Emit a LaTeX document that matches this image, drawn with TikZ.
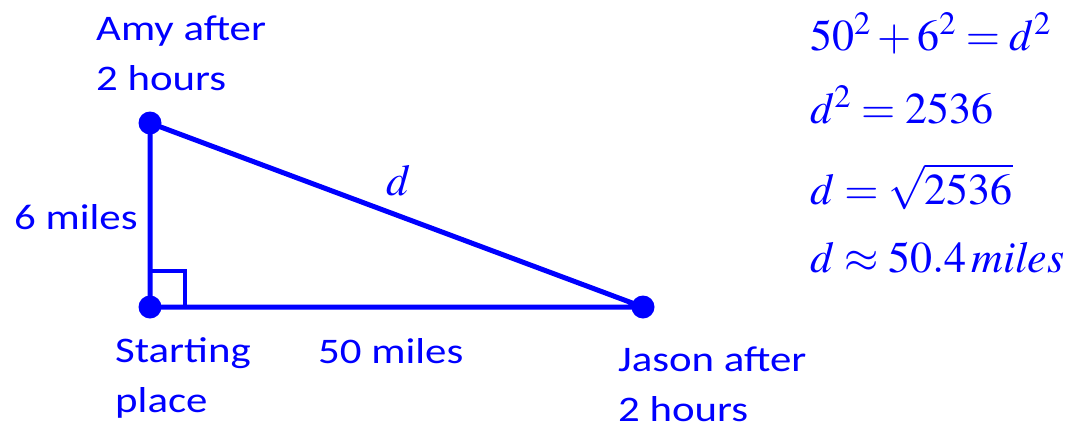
\documentclass[tikz,border=0pt]{standalone}
\usepackage{mathptmx}
\usepackage{fontspec}
\setmainfont{Carlito}
\newfontfamily\lblfont[FakeStretch=1.19]{Carlito}
\tikzset{
  ink/.style={draw=blue, line width=5pt},
  lbl/.style={text=blue, inner sep=0pt, anchor=base west, align=left,
    font=\lblfont\fontsize{36}{50}\selectfont},
  eqn/.style={text=blue, inner sep=0pt, anchor=base west,
    font=\fontsize{44}{52}\selectfont}
}
\begin{document}
\begin{tikzpicture}[x=1pt, y=-1pt]
    \useasboundingbox (0,0) rectangle (1072,429);

    % Corners of the triangle
    \coordinate (amy) at (150,123);
    \coordinate (start) at (150,307);
    \coordinate (jason) at (643,307);

    % Sides
    \draw[ink, line join=round] (amy) -- (start) -- (jason) -- cycle;

    % Right-angle mark
    \draw[ink, line width=4pt] ([yshift=36pt]start) -| ([xshift=35pt]start);

    % Dots
    \foreach \p in {amy, start, jason}
      \fill[blue] (\p) circle (11.5pt);

    % Labels (anchored on the last line)
    \node[lbl] (amylbl) at (96,90) {Amy after\\2 hours};
    \node[lbl] (sixlbl) at (14,229) {6 miles};
    \node[lbl] (startlbl) at (115,412) {Starting\\place};
    \node[lbl] (fiftylbl) at (318,363) {50 miles};
    \node[lbl] (jasonlbl) at (618,421) {Jason after\\2 hours};
    \node[eqn] (dlbl) at (386,195) {$d$};

    % Working
    \node[eqn] (eq1) at (810,50) {$50^2+6^2=d^2$};
    \node[eqn] (eq2) at (810,123) {$d^2=2536$};
    \node[eqn] (eq3) at (810,204) {$d=\sqrt{2536}$};
    \node[eqn] (eq4) at (810,272) {$d\approx 50.4\,\mathit{miles}$};
\end{tikzpicture}
\end{document}
